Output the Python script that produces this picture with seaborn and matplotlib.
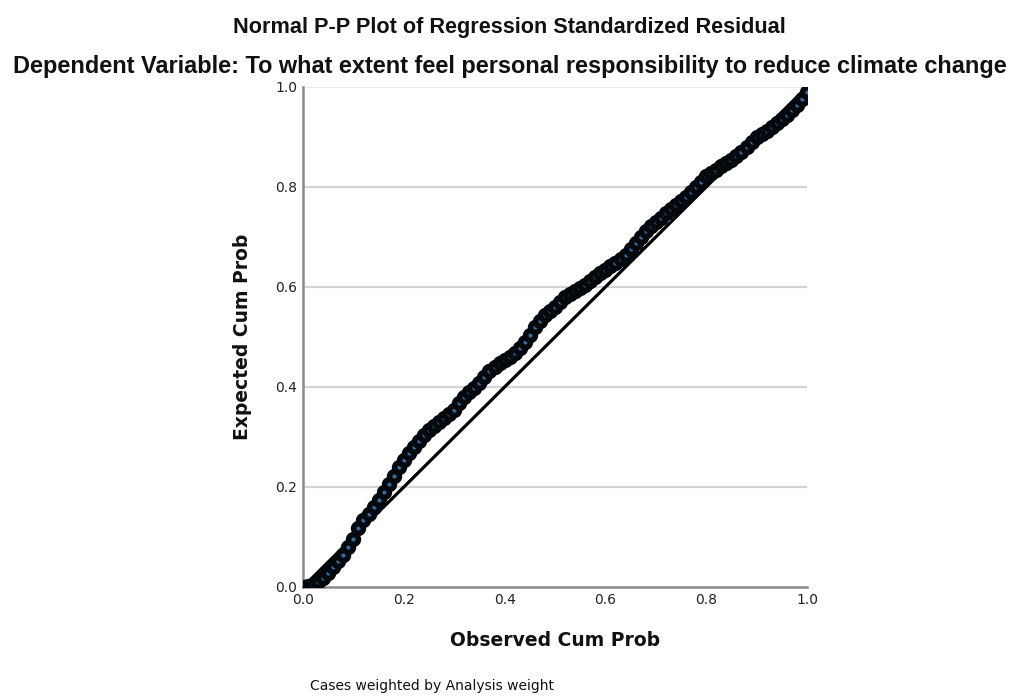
import matplotlib
matplotlib.use("Agg")
import matplotlib.pyplot as plt
import seaborn as sns
import pandas as pd
import numpy as np

observed_cum_prob = [i / 100 for i in range(101)]
expected_cum_prob = [
    0.000, 0.002, 0.005, 0.010, 0.018, 0.028, 0.040, 0.052, 0.065, 0.080,
    0.096, 0.118, 0.135, 0.146, 0.160, 0.174, 0.190, 0.206, 0.222, 0.240,
    0.255, 0.268, 0.280, 0.292, 0.305, 0.314, 0.322, 0.330, 0.338, 0.346,
    0.355, 0.368, 0.380, 0.390, 0.398, 0.408, 0.420, 0.432, 0.440, 0.448,
    0.455, 0.461, 0.468, 0.478, 0.490, 0.505, 0.520, 0.533, 0.545, 0.553,
    0.560, 0.570, 0.580, 0.586, 0.592, 0.598, 0.605, 0.612, 0.620, 0.628,
    0.635, 0.642, 0.648, 0.656, 0.665, 0.676, 0.688, 0.700, 0.712, 0.722,
    0.730, 0.739, 0.748, 0.757, 0.765, 0.772, 0.780, 0.790, 0.800, 0.811,
    0.822, 0.829, 0.835, 0.842, 0.848, 0.855, 0.862, 0.871, 0.880, 0.890,
    0.900, 0.906, 0.912, 0.920, 0.928, 0.936, 0.945, 0.955, 0.965, 0.977,
    0.990,
]
ref_line = [0.0, 1.0]
tick_values = [0.0, 0.2, 0.4, 0.6, 0.8, 1.0]
tick_labels = ["0.0", "0.2", "0.4", "0.6", "0.8", "1.0"]

title = "Normal P-P Plot of Regression Standardized Residual"
subtitle = "Dependent Variable: To what extent feel personal responsibility to reduce climate change"
xlabel = "Observed Cum Prob"
ylabel = "Expected Cum Prob"
footer = "Cases weighted by Analysis weight"

sns.set_theme(style="white")
plt.rcParams['font.family'] = ['DejaVu Sans']

df = pd.DataFrame({"obs": observed_cum_prob, "exp": expected_cum_prob})
line_df = pd.DataFrame({"x": ref_line, "y": ref_line})

fig = plt.figure(figsize=(10.19, 6.98), dpi=100)
ax = fig.add_axes([303 / 1019, 1 - 587 / 698, 504 / 1019, 500 / 698])

for t in tick_values[1:]:
    ax.axhline(t, color="#d4d4d4" if t < 1 else "#ececec", lw=1.6, zorder=0)

sns.lineplot(data=line_df, x="x", y="y", ax=ax, color="black", lw=2.3, zorder=2)
sns.scatterplot(data=df, x="obs", y="exp", ax=ax, s=50, color="#2f6fa8",
                edgecolor="#03080d", linewidth=4.0, zorder=3)

ax.set_xlim(0, 1)
ax.set_ylim(0, 1)
ax.set_xticks(tick_values)
ax.set_xticklabels(tick_labels)
ax.set_yticks(tick_values)
ax.set_yticklabels(tick_labels)
ax.tick_params(axis="both", length=0, labelsize=10, colors="#222222", pad=4)
for s in ["top", "right"]:
    ax.spines[s].set_visible(False)
for s in ["left", "bottom"]:
    ax.spines[s].set_color("#8a8a8a")
    ax.spines[s].set_linewidth(1.8)
ax.set_xlabel("")
ax.set_ylabel("")

head = 'Liberation Sans'
t1 = fig.text(0.5, 1 - 28 / 698, title, ha="center", va="center", fontsize=15,
              fontweight="bold", family=head, color="#111111")
t2 = fig.text(0.5, 1 - 66 / 698, subtitle, ha="center", va="center", fontsize=15,
              fontweight="bold", family=head, color="#111111")
fig.canvas.draw()
r = fig.canvas.get_renderer()
for t, target in [(t1, 553), (t2, 1000)]:
    w = t.get_window_extent(r).width
    t.set_fontsize(t.get_fontsize() * target / w)

fig.text(555 / 1019, 1 - 641 / 698, xlabel, ha="center", va="center", fontsize=13.5,
         fontweight="bold", color="#111111")
fig.text(243 / 1019, 1 - 337 / 698, ylabel, ha="center", va="center", fontsize=13.5,
         fontweight="bold", rotation=90, color="#111111")
fig.text(432 / 1019, 1 - 686 / 698, footer, ha="center", va="center", fontsize=10,
         color="#111111")

fig.savefig("out.png", dpi=100)
